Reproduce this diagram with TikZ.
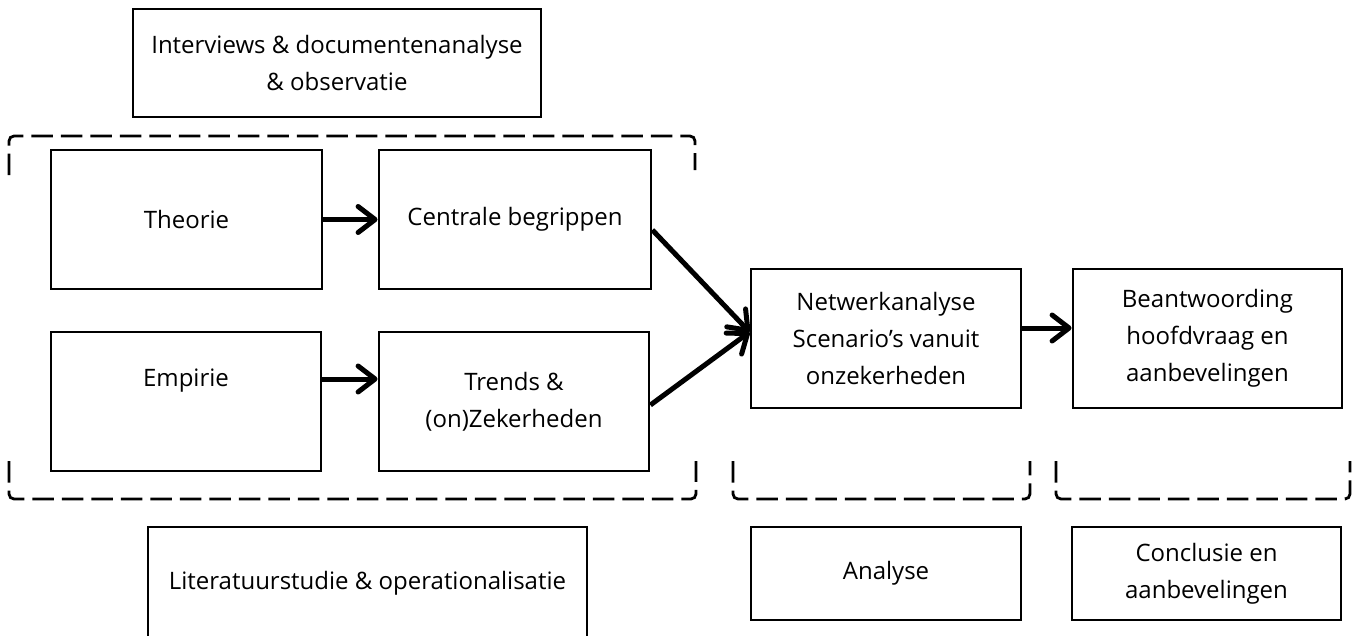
\documentclass[tikz,border=0pt]{standalone}
\usepackage{fontspec}
\setmainfont{Open Sans}
\usetikzlibrary{arrows.meta}
\begin{document}
\begin{tikzpicture}[x=1pt,y=-1pt,
  box/.style={draw, line width=2.8pt, align=center, inner sep=0pt,
    font=\fontsize{24}{37}\selectfont},
  txt/.style={inner sep=0pt, align=center, font=\fontsize{24}{37}\selectfont},
  arr/.style={line width=5pt, -{Straight Barb[length=17pt,width=26pt,round]}},
  bracket/.style={line width=2.8pt, rounded corners=5pt, dash pattern=on 21.5pt off 8pt}]
\useasboundingbox (0,0) rectangle (1358,635);

% top box
\node[box, minimum width=408pt, minimum height=108pt] (intv) at (337,63)
  {Interviews \& documentenanalyse\\\& observatie};

% literature block
\node[box, minimum width=271pt, minimum height=139pt] (theorie) at (186.5,219.5) {Theorie};
\node[box, minimum width=272pt, minimum height=139pt] (centr) at (515,219.5) {Centrale begrippen};
\node[box, minimum width=270pt, minimum height=139pt] (empirie) at (186,401.5) {};
\node[txt] (empt) at (186,381) {Empirie};
\node[box, minimum width=270pt, minimum height=139pt] (trends) at (514,401.5)
  {Trends \&\\(on)Zekerheden};

% analysis and conclusion
\node[box, minimum width=270pt, minimum height=139pt] (netw) at (886,338.5)
  {Netwerkanalyse\\Scenario’s vanuit\\onzekerheden};
\node[box, minimum width=269pt, minimum height=139pt] (beant) at (1207.5,338.5)
  {Beantwoording\\hoofdvraag en\\aanbevelingen};

% phase labels
\node[box, minimum width=439pt, minimum height=112pt] (lit) at (367.5,583)
  {Literatuurstudie \& operationalisatie};
\node[box, minimum width=270pt, minimum height=93pt] (anal) at (886,573.5) {Analyse};
\node[box, minimum width=269pt, minimum height=93pt] (concl) at (1206.5,573.5)
  {Conclusie en\\aanbevelingen};

% connectors
\coordinate (ey) at (0,379);
\coordinate (cy) at (0,230);
\coordinate (ty) at (0,405);
\coordinate (hy) at (0,332);
\coordinate (ny) at (0,328);
\draw[arr] (theorie.east) -- (centr.west);
\draw[arr] (empirie.east |- ey) -- (trends.west |- ey);
\draw[arr] (centr.east |- cy) -- (netw.west |- hy);
\draw[arr] (trends.east |- ty) -- (netw.west |- hy);
\draw[arr] (netw.east |- ny) -- (beant.west |- ny);

% dashed brackets
\draw[bracket] (9,175) -- (9,136) -- (695,136) -- (695,170);
\draw[bracket] (9,461) -- (9,499) -- (696,499) -- (696,461);
\draw[bracket] (733,461) -- (733,499) -- (1030,499) -- (1030,461);
\draw[bracket] (1056,461) -- (1056,499) -- (1350,499) -- (1350,461);
\end{tikzpicture}
\end{document}
